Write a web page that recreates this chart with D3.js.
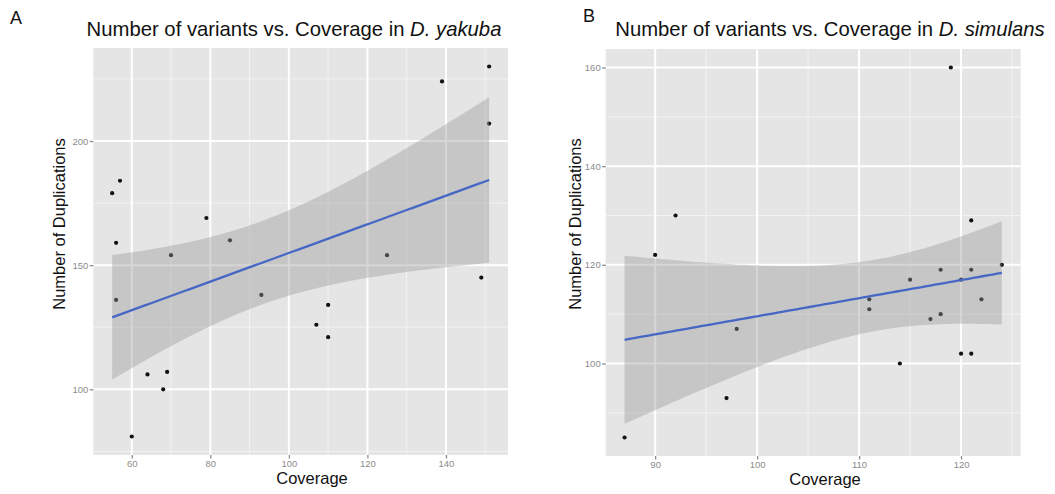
<!DOCTYPE html>
<html>
<head>
<meta charset="utf-8">
<script src="https://cdn.jsdelivr.net/npm/d3@7"></script>
<style>
  html, body { margin: 0; padding: 0; background: #ffffff; }
  svg { display: block; font-family: "Liberation Sans", Arial, Helvetica, sans-serif; }
</style>
</head>
<body>
<svg id="chart" width="1055" height="494"></svg>
<script>
// ---------------- DATA ----------------
// Panel A: D. yakuba
const yakubaCoverage = [55, 57, 56, 79, 85, 139, 151, 151, 70, 56, 93, 64, 69, 68, 60, 125, 149, 110, 107, 110];
const yakubaDuplications = [179, 184, 159, 169, 160, 224, 230, 207, 154, 136, 138, 106, 107, 100, 81, 154, 145, 134, 126, 121];
const yakubaXTicks = [60, 80, 100, 120, 140];
const yakubaYTicks = [100, 150, 200];

// Panel B: D. simulans
const simulansCoverage = [92, 90, 119, 121, 124, 118, 121, 87, 97, 98, 115, 120, 111, 122, 111, 117, 118, 120, 121, 114];
const simulansDuplications = [130, 122, 160, 129, 120, 119, 119, 85, 93, 107, 117, 117, 113, 113, 111, 109, 110, 102, 102, 100];
const simulansXTicks = [90, 100, 110, 120];
const simulansYTicks = [100, 120, 140, 160];

const panelLabels = ["A", "B"];
const speciesNames = ["D. yakuba", "D. simulans"];
const titlePrefix = "Number of variants vs. Coverage in ";
const xTitle = "Coverage";
const yTitle = "Number of Duplications";

// Student t 0.975 quantile for df = n - 2 = 18 (95% confidence band, as geom_smooth)
const T_975_DF18 = 2.100922;

// ---------------- LAYOUT ----------------
const panels = [
  { x: yakubaCoverage, y: yakubaDuplications, xt: yakubaXTicks, yt: yakubaYTicks,
    left: 93.3, right: 508, top: 48, bottom: 455,
    lab: { x: 10, y: 24 }, title: { x: 294, y: 36 }, xtitle: { x: 312, y: 484 }, ytitle: { x: 65, y: 224 } },
  { x: simulansCoverage, y: simulansDuplications, xt: simulansXTicks, yt: simulansYTicks,
    left: 605.7, right: 1020.7, top: 49, bottom: 456,
    lab: { x: 583, y: 22 }, title: { x: 830, y: 36 }, xtitle: { x: 825, y: 485 }, ytitle: { x: 580.5, y: 224 } }
];

const svg = d3.select("#chart");

function expandDomain(vals) {
  const [a, b] = d3.extent(vals);
  const e = (b - a) * 0.05;
  return [a - e, b + e];
}

function linfit(xs, ys) {
  const n = xs.length;
  const mx = d3.mean(xs), my = d3.mean(ys);
  let sxx = 0, sxy = 0;
  for (let i = 0; i < n; i++) { sxx += (xs[i] - mx) ** 2; sxy += (xs[i] - mx) * (ys[i] - my); }
  const b = sxy / sxx, a = my - b * mx;
  let sse = 0;
  for (let i = 0; i < n; i++) sse += (ys[i] - (a + b * xs[i])) ** 2;
  const s = Math.sqrt(sse / (n - 2));
  return { a, b, mx, sxx, s, n };
}

panels.forEach((p, idx) => {
  const g = svg.append("g");
  const xs = d3.scaleLinear().domain(expandDomain(p.x)).range([p.left, p.right]);
  const ys = d3.scaleLinear().domain(expandDomain(p.y)).range([p.bottom, p.top]);

  // panel background
  g.append("rect").attr("x", p.left).attr("y", p.top)
    .attr("width", p.right - p.left).attr("height", p.bottom - p.top).attr("fill", "#E5E5E5");

  // minor grid
  function minors(ticks, scale) {
    const step = ticks[1] - ticks[0];
    const [d0, d1] = scale.domain();
    const out = [];
    for (let v = ticks[0] - step / 2; v <= d1; v += step) if (v >= d0) out.push(v);
    return out;
  }
  g.selectAll(".minx").data(minors(p.xt, xs)).join("line")
    .attr("x1", d => xs(d)).attr("x2", d => xs(d)).attr("y1", p.top).attr("y2", p.bottom)
    .attr("stroke", "#F2F2F2").attr("stroke-width", 1);
  g.selectAll(".miny").data(minors(p.yt, ys)).join("line")
    .attr("y1", d => ys(d)).attr("y2", d => ys(d)).attr("x1", p.left).attr("x2", p.right)
    .attr("stroke", "#F2F2F2").attr("stroke-width", 1);
  // major grid
  g.selectAll(".majx").data(p.xt).join("line")
    .attr("x1", d => xs(d)).attr("x2", d => xs(d)).attr("y1", p.top).attr("y2", p.bottom)
    .attr("stroke", "#FFFFFF").attr("stroke-width", 2);
  g.selectAll(".majy").data(p.yt).join("line")
    .attr("y1", d => ys(d)).attr("y2", d => ys(d)).attr("x1", p.left).attr("x2", p.right)
    .attr("stroke", "#FFFFFF").attr("stroke-width", 2);

  // points
  const pts = p.x.map((v, i) => [v, p.y[i]]);
  g.selectAll(".pt").data(pts).join("circle")
    .attr("cx", d => xs(d[0])).attr("cy", d => ys(d[1])).attr("r", 2.1).attr("fill", "#111111");

  // regression + confidence band
  const f = linfit(p.x, p.y);
  const [xmin, xmax] = d3.extent(p.x);
  const grid = d3.range(80).map(i => xmin + (xmax - xmin) * i / 79);
  const band = grid.map(x => {
    const fit = f.a + f.b * x;
    const se = f.s * Math.sqrt(1 / f.n + (x - f.mx) ** 2 / f.sxx);
    return { x, fit, lo: fit - T_975_DF18 * se, hi: fit + T_975_DF18 * se };
  });
  g.append("path").datum(band)
    .attr("d", d3.area().x(d => xs(d.x)).y0(d => ys(d.lo)).y1(d => ys(d.hi)))
    .attr("fill", "#999999").attr("fill-opacity", 0.4);
  g.append("path").datum(band)
    .attr("d", d3.line().x(d => xs(d.x)).y(d => ys(d.fit)))
    .attr("fill", "none").attr("stroke", "#4767C4").attr("stroke-width", 2.3);

  // axes
  const xAxis = d3.axisBottom(xs).tickValues(p.xt).tickSize(3.5).tickPadding(2);
  const yAxis = d3.axisLeft(ys).tickValues(p.yt).tickSize(3.5).tickPadding(1.5);
  const gx = g.append("g").attr("transform", `translate(0,${p.bottom})`).call(xAxis);
  const gy = g.append("g").attr("transform", `translate(${p.left},0)`).call(yAxis);
  [gx, gy].forEach(a => {
    a.select(".domain").remove();
    a.selectAll(".tick line").attr("stroke", "#8C8C8C").attr("stroke-width", 1.3);
    a.selectAll(".tick text").attr("fill", "#8C8C8C").attr("font-size", "9.5px")
      .attr("font-family", "Liberation Sans, Arial, sans-serif");
  });

  // texts
  g.append("text").attr("x", p.lab.x).attr("y", p.lab.y).attr("font-size", "18px").attr("fill", "#111")
    .text(panelLabels[idx]);
  const t = g.append("text").attr("x", p.title.x).attr("y", p.title.y).attr("text-anchor", "middle")
    .attr("font-size", "20.3px").attr("fill", "#111");
  t.append("tspan").text(titlePrefix);
  t.append("tspan").attr("font-style", "italic").text(speciesNames[idx]);
  g.append("text").attr("x", p.xtitle.x).attr("y", p.xtitle.y).attr("text-anchor", "middle")
    .attr("font-size", "16.5px").attr("fill", "#111").text(xTitle);
  g.append("text").attr("transform", `translate(${p.ytitle.x},${p.ytitle.y}) rotate(-90)`)
    .attr("text-anchor", "middle").attr("font-size", "16.5px").attr("fill", "#111").text(yTitle);
});
</script>
</body>
</html>
